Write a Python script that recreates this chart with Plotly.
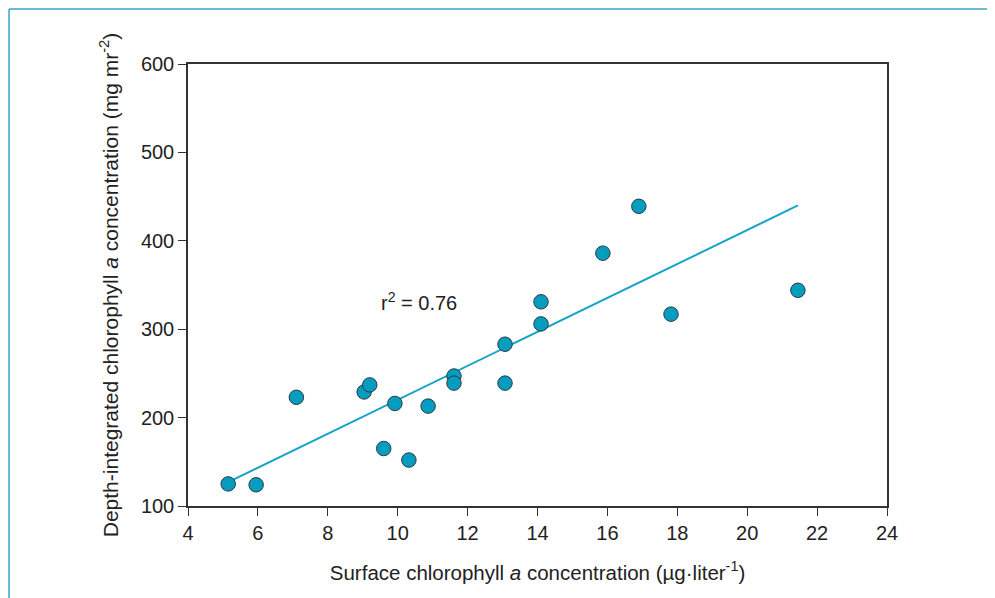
import plotly.graph_objects as go

# Data
surface_chl = [5.15, 5.95, 7.1, 9.04, 9.2, 9.92, 9.6, 10.32, 10.87, 11.61, 11.61,
               13.07, 13.07, 14.1, 14.1, 15.87, 16.9, 17.82, 21.45]
depth_chl = [125, 124, 223, 229, 237, 216, 165, 152, 213, 247, 239,
             283, 239, 331, 306, 386, 439, 317, 344]
fit_x = [5.15, 21.45]
fit_y = [127, 440]
x_ticks = [4, 6, 8, 10, 12, 14, 16, 18, 20, 22, 24]
y_ticks = [100, 200, 300, 400, 500, 600]
r2_label = "r<sup>2</sup> = 0.76"
r2_pos = (10.6, 331)

font_family = "Liberation Sans, Arial, sans-serif"

fig = go.Figure()
fig.add_trace(go.Scatter(x=fit_x, y=fit_y, mode="lines",
                         line=dict(color="#16a3c8", width=2), hoverinfo="skip",
                         showlegend=False))
fig.add_trace(go.Scatter(x=surface_chl, y=depth_chl, mode="markers",
                         marker=dict(size=14.5, color="#049dc0",
                                     line=dict(color="#2a3a40", width=1)),
                         showlegend=False))

fig.add_annotation(x=r2_pos[0], y=r2_pos[1], text=r2_label, showarrow=False,
                   font=dict(size=20, color="#222", family=font_family))

# outer frame (top and left teal lines)
fig.add_shape(type="line", xref="paper", yref="paper", x0=-0.256, x1=1.17,
              y0=1.1245, y1=1.1245, line=dict(color="#3aa3c9", width=1.5))
fig.add_shape(type="line", xref="paper", yref="paper", x0=-0.256, x1=-0.256,
              y0=1.1245, y1=-0.25, line=dict(color="#3aa3c9", width=1.5))

axis_common = dict(showgrid=False, zeroline=False, showline=True, mirror=True,
                   linecolor="#333", linewidth=1.5, ticks="outside", ticklen=8,
                   tickcolor="#333", tickwidth=1.2,
                   tickfont=dict(size=20, color="#222", family=font_family))

fig.update_layout(
    width=995, height=598,
    margin=dict(l=180, r=116, t=56, b=100),
    paper_bgcolor="white", plot_bgcolor="white",
    xaxis=dict(range=[4, 24], tickvals=x_ticks,
               title=dict(text="Surface chlorophyll <i>a</i> concentration (µg·liter<sup>-1</sup>)",
                          font=dict(size=20.5, color="#222", family=font_family),
                          standoff=23),
               **axis_common),
    yaxis=dict(range=[100, 600], tickvals=y_ticks,
               title=dict(text="Depth-integrated chlorophyll <i>a</i> concentration (mg mr<sup>-2</sup>)",
                          font=dict(size=21, color="#222", family=font_family),
                          standoff=17),
               **axis_common),
)

fig.write_html("out.html")
